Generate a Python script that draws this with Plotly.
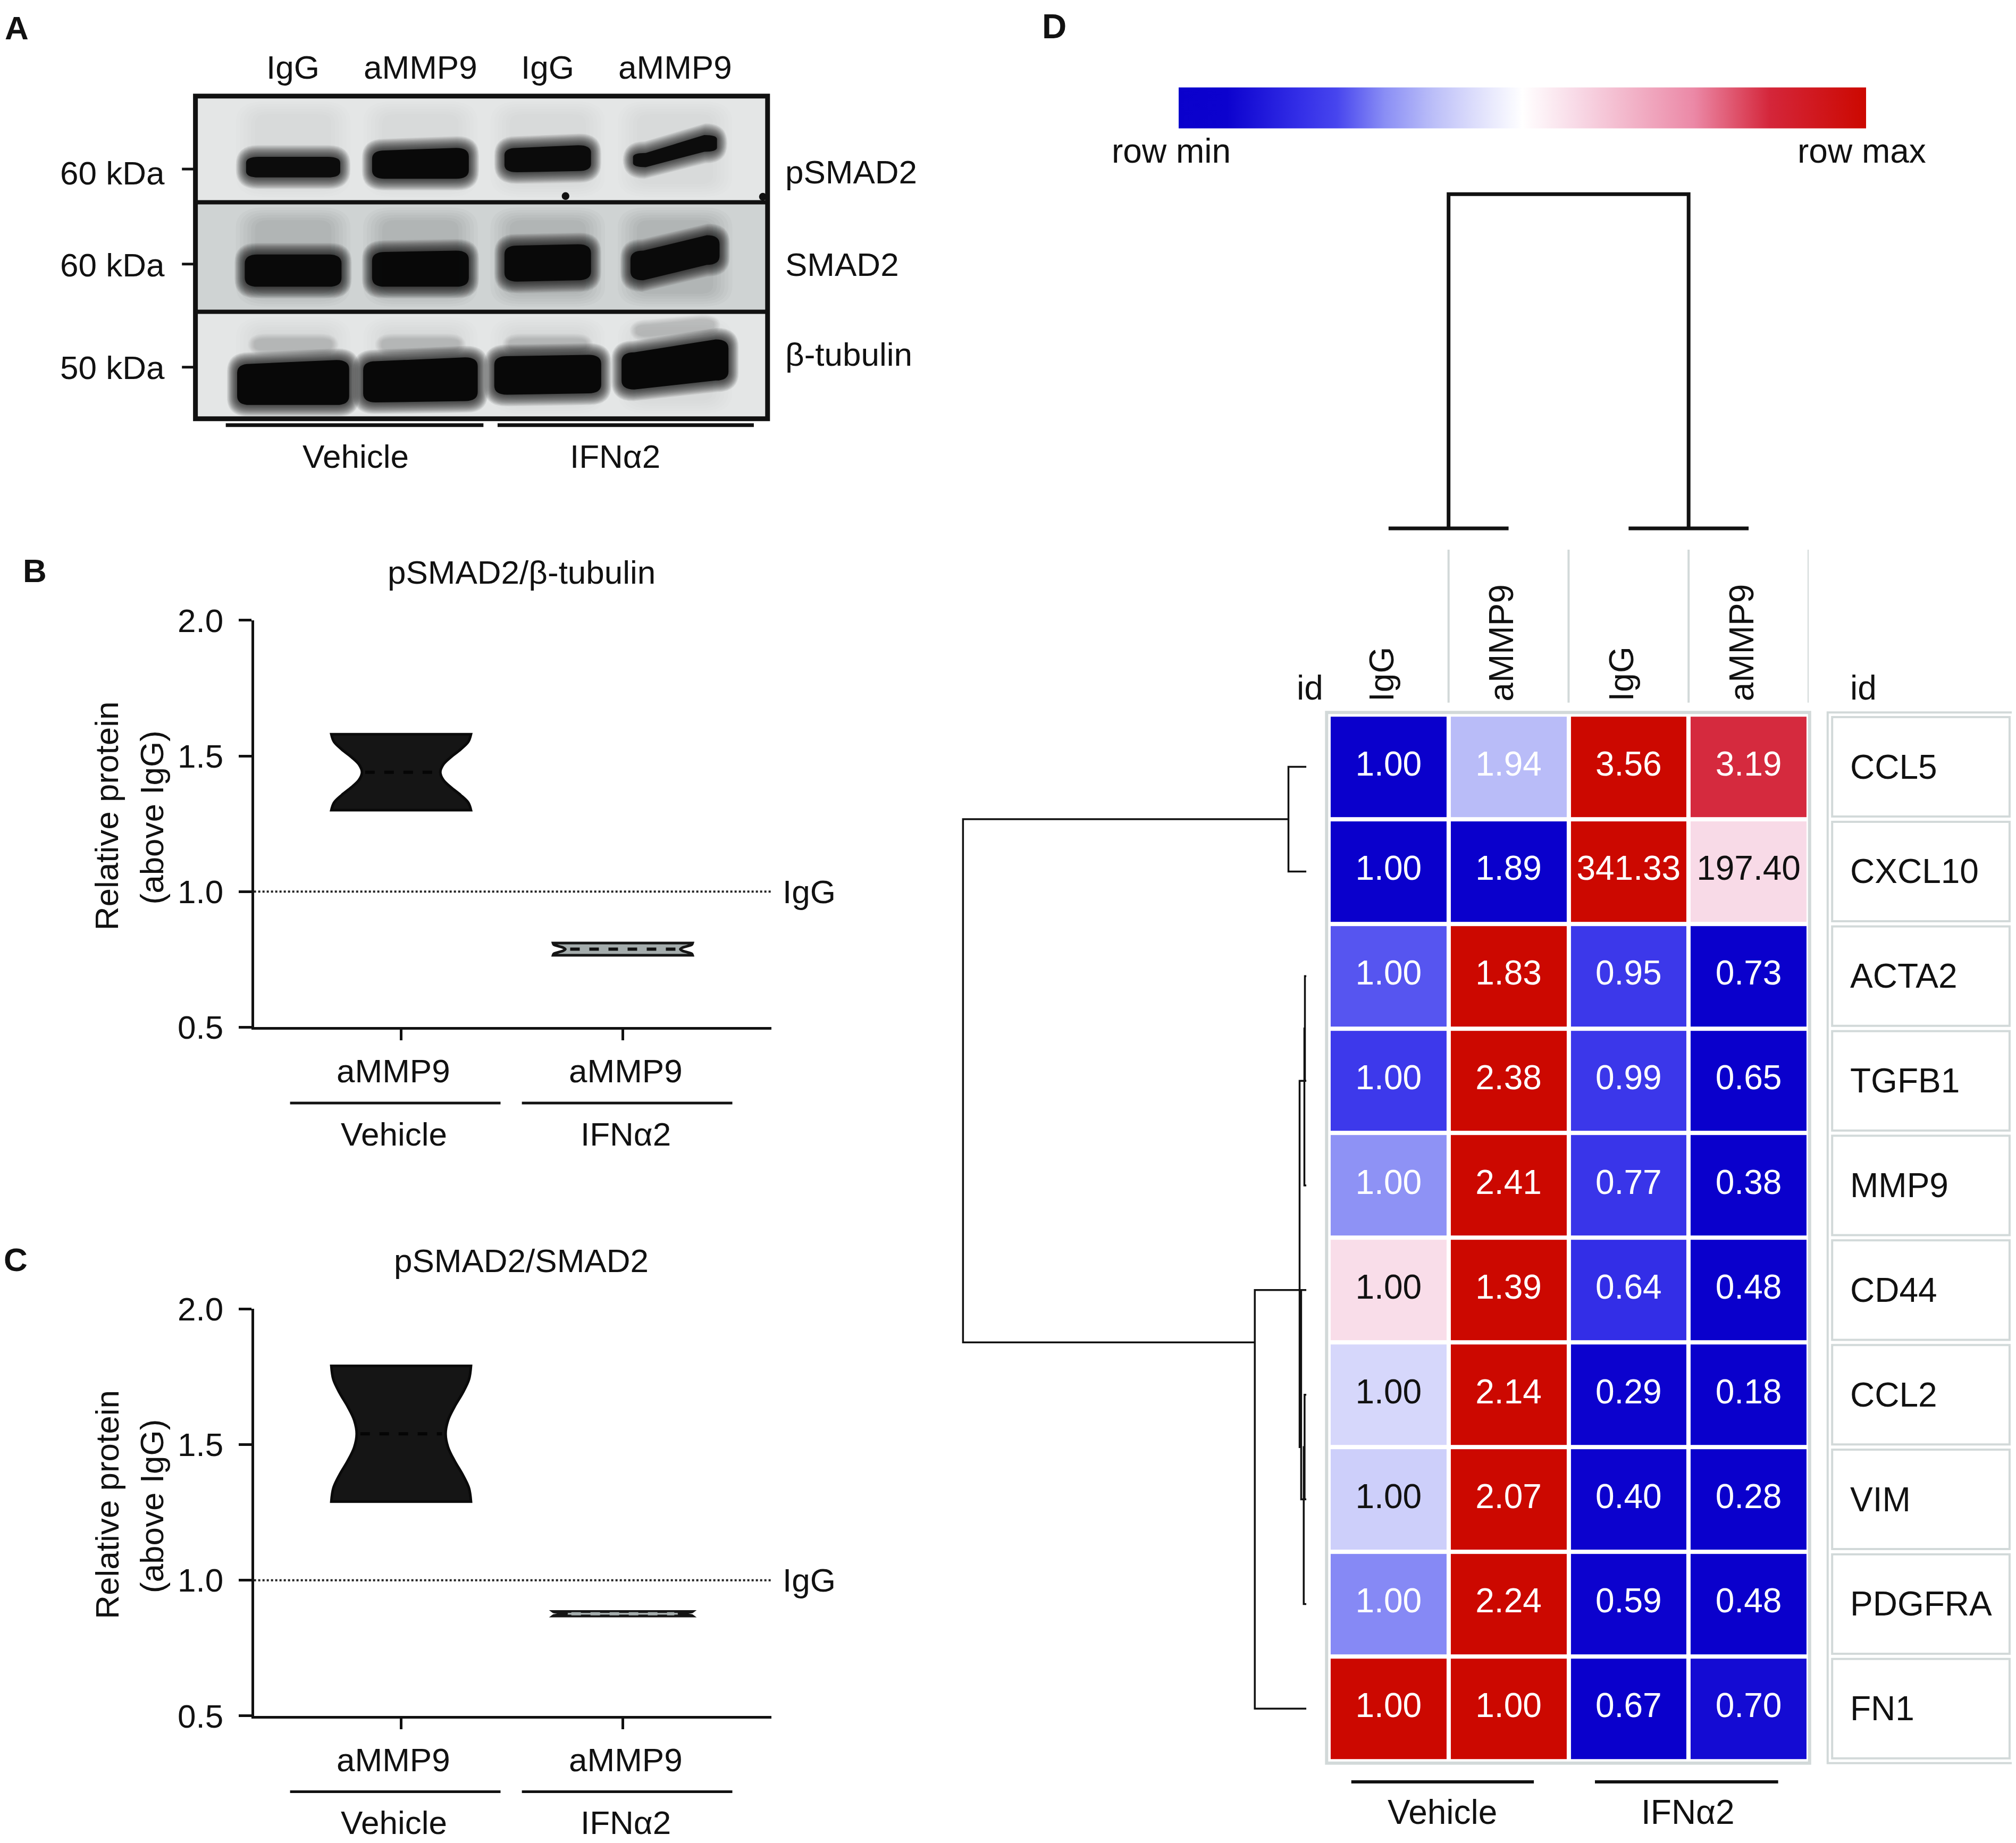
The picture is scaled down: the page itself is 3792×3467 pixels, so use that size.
import numpy as np
import plotly.graph_objects as go

# ---------------------------------------------------------------- data
blot_lanes = ["IgG", "aMMP9", "IgG", "aMMP9"]
blot_groups = ["Vehicle", "IFNα2"]
blot_targets = ["pSMAD2", "SMAD2", "β-tubulin"]
blot_kda = ["60 kDa", "60 kDa", "50 kDa"]
psmad2_density = [0.93, 0.98, 0.96, 0.93]
smad2_density = [0.98, 0.99, 0.98, 0.96]
tubulin_density = [1.0, 1.0, 1.0, 1.0]

violin_labels = ["aMMP9", "aMMP9"]
violin_groups = ["Vehicle", "IFNα2"]
b_title = "pSMAD2/β-tubulin"
c_title = "pSMAD2/SMAD2"
b_vehicle = [1.30, 1.58]
b_ifn = [0.765, 0.81]
c_vehicle = [1.29, 1.79]
c_ifn = [0.868, 0.885]
igg_level = 1.0
y_ticks = [0.5, 1.0, 1.5, 2.0]

genes = ["CCL5", "CXCL10", "ACTA2", "TGFB1", "MMP9", "CD44", "CCL2", "VIM", "PDGFRA", "FN1"]
samples = ["IgG", "aMMP9", "IgG", "aMMP9"]
sample_groups = ["Vehicle", "IFNα2"]
expr = [
    [1.00, 1.94, 3.56, 3.19],
    [1.00, 1.89, 341.33, 197.40],
    [1.00, 1.83, 0.95, 0.73],
    [1.00, 2.38, 0.99, 0.65],
    [1.00, 2.41, 0.77, 0.38],
    [1.00, 1.39, 0.64, 0.48],
    [1.00, 2.14, 0.29, 0.18],
    [1.00, 2.07, 0.40, 0.28],
    [1.00, 2.24, 0.59, 0.48],
    [1.00, 1.00, 0.67, 0.70],
]
# hierarchical clustering: (child a, child b, height)
row_merges = [(2, 3, 0.004), (10, 4, 0.0056), (6, 7, 0.005), (12, 8, 0.0075),
              (5, 13, 0.015), (11, 14, 0.0195), (0, 1, 0.052), (15, 9, 0.150),
              (16, 17, 1.0)]
col_merges = [(0, 1, 0.0), (2, 3, 0.0), (4, 5, 1.0)]

# ---------------------------------------------------------------- layout helpers
FONT = "Liberation Sans, Arial, Helvetica, sans-serif"
W, H = 3792, 3467
DW, DH = 1568.0, 1433.6
OFF = 3.3          # page body margin (8 px) expressed in layout units
INK = "#111111"
GRID = "#d2d9d9"
FS_AC = 62
FS_D = 64


def px(X):
    return (X - OFF) / DW


def py(Y):
    return 1.0 - (Y - OFF) / DH


fig = go.Figure()
shapes = []
annotations = []


def ann(text, X, Y, size=FS_AC, xanchor="center", yanchor="middle", bold=False,
        angle=0, xref="paper", yref="paper", xshift=0, color=INK):
    annotations.append(dict(
        text=f"<b>{text}</b>" if bold else text,
        x=px(X) if xref == "paper" else X,
        y=py(Y) if yref == "paper" else Y,
        xref=xref, yref=yref, xanchor=xanchor, yanchor=yanchor,
        textangle=angle, showarrow=False, xshift=xshift,
        font=dict(family=FONT, size=size, color=color)))


def pline(X0, Y0, X1, Y1, width=6, color=INK, dash=None):
    shapes.append(dict(type="line", xref="paper", yref="paper",
                       x0=px(X0), y0=py(Y0), x1=px(X1), y1=py(Y1),
                       line=dict(color=color, width=width, dash=dash)))


# ---------------------------------------------------------------- panel A (blot)
LANE0, LANEP = 228.0, 99.0
BX0, BX1, BY0, BY1 = 152.0, 597.0, 74.7, 325.7
lane_pos = list(range(len(blot_lanes)))
fig.update_layout(
    xaxis=dict(domain=[px(BX0), px(BX1)], range=[(BX0 - LANE0) / LANEP, (BX1 - LANE0) / LANEP],
               visible=False, fixedrange=True),
    yaxis=dict(domain=[py(BY1), py(BY0)], range=[BY1, BY0], visible=False, fixedrange=True),
)
strip_edges = [74.7, 157.3, 242.5, 325.7]
strip_bg = ["#e4e6e6", "#cfd3d3", "#e4e6e6"]
for k in range(3):
    shapes.append(dict(type="rect", xref="x domain", yref="y", x0=0, x1=1,
                       y0=strip_edges[k], y1=strip_edges[k + 1], fillcolor=strip_bg[k],
                       line=dict(width=0), layer="below"))

band_geom = {  # half-width (lane units), top-left, bottom-left, top-right, bottom-right (px)
    "pSMAD2": [(0.37, 122, 138, 122, 138), (0.38, 117, 139, 115, 139),
               (0.34, 115, 134, 113, 133), (0.33, 119, 130, 105, 118)],
    "SMAD2": [(0.38, 198, 223, 198, 223), (0.38, 196, 223, 195, 223),
              (0.34, 191, 219, 190, 218), (0.35, 195, 218, 183, 206)],
    "β-tubulin": [(0.44, 283, 315, 280, 315), (0.45, 281, 313, 278, 312),
                  (0.42, 277, 307, 276, 306), (0.42, 274, 303, 264, 296)],
}
densities = {"pSMAD2": psmad2_density, "SMAD2": smad2_density, "β-tubulin": tubulin_density}


def band_path(xc, hw, tl, bl, tr, br, ex=0.0, ey=0.0):
    x0, x1 = xc - hw - ex, xc + hw + ex
    tl, tr, bl, br = tl - ey, tr - ey, bl + ey, br + ey
    rx = 0.10 + ex * 0.9
    ry = min(7.0, (bl - tl) * 0.3) + ey * 0.9
    return (f"M {x0 + rx},{tl} L {x1 - rx},{tr} Q {x1},{tr} {x1},{tr + ry} "
            f"L {x1},{br - ry} Q {x1},{br} {x1 - rx},{br} L {x0 + rx},{bl} "
            f"Q {x0},{bl} {x0},{bl - ry} L {x0},{tl + ry} Q {x0},{tl} {x0 + rx},{tl} Z")


NBLUR = 14
blur = [(0.08 * (1 - s / NBLUR), 9.0 * (1 - s / NBLUR)) for s in range(NBLUR)]

# soft lane streaks (very faint, blurred)
for k, op in enumerate([0.008, 0.022, 0.008]):
    for i in lane_pos:
        for s in range(6):
            shapes.append(dict(type="path", xref="x", yref="y",
                               path=band_path(i, 0.30, strip_edges[k] + 14, strip_edges[k + 1] - 14,
                                              strip_edges[k] + 14, strip_edges[k + 1] - 14,
                                              0.03 * s, 2.0 * s),
                               fillcolor="#000000", opacity=op, line=dict(width=0)))

# faint upper bands on the tubulin strip
for i in lane_pos:
    lift = 11 if i == 3 else 0
    tilt = 4 if i == 3 else 0
    for ex, ey in blur[::2]:
        shapes.append(dict(type="path", xref="x", yref="y",
                           path=band_path(i, 0.30, 264 - lift, 272 - lift, 264 - lift - tilt,
                                          272 - lift - tilt, ex * 0.7, ey * 0.5),
                           fillcolor="#000000", opacity=0.025, line=dict(width=0)))

for tgt in blot_targets:
    for i in lane_pos:
        hw, tl, bl, tr, br = band_geom[tgt][i]
        d = densities[tgt][i]
        for ex, ey in blur:
            shapes.append(dict(type="path", xref="x", yref="y",
                               path=band_path(i, hw, tl, bl, tr, br, ex, ey),
                               fillcolor="#080808", opacity=0.08 * d, line=dict(width=0)))
        shapes.append(dict(type="path", xref="x", yref="y",
                           path=band_path(i, hw, tl, bl, tr, br, 0, 0),
                           fillcolor="#080808", opacity=min(1.0, d), line=dict(width=0)))
# specks
for (sx, sy) in [(2.14, 152.5), (3.69, 153)]:
    shapes.append(dict(type="circle", xref="x", yref="y", x0=sx - 0.03, x1=sx + 0.03,
                       y0=sy - 3, y1=sy + 3, fillcolor="#111111", line=dict(width=0)))
# frame and strip separators
shapes.append(dict(type="rect", xref="x domain", yref="y domain", x0=0, x1=1, y0=0, y1=1,
                   line=dict(color=INK, width=9)))
for e in strip_edges[1:3]:
    shapes.append(dict(type="line", xref="x domain", yref="y", x0=0, x1=1, y0=e, y1=e,
                       line=dict(color=INK, width=8)))

ann("A", 13, 21.5, size=62, bold=True)
for i, lab in enumerate(blot_lanes):
    ann(lab, LANE0 + LANEP * i, 52.2)
kda_y = [134.5, 206.0, 286.0]
kda_tick_y = [131.5, 205.4, 285.6]
for t, yy, ty in zip(blot_kda, kda_y, kda_tick_y):
    ann(t, 129, yy, xanchor="right")
    pline(141.5, ty, 152, ty, width=5)
tgt_y = [133.8, 205.7, 275.5]
for t, yy in zip(blot_targets, tgt_y):
    ann(t, 610, yy, xanchor="left")
pline(175.6, 330.7, 376.0, 330.7, width=7)
pline(387.0, 330.7, 586.3, 330.7, width=7)
ann(blot_groups[0], 276.6, 355)
ann(blot_groups[1], 478.4, 355)

# ---------------------------------------------------------------- panels B and C (violins)
AX_X0, AX_X1 = 197.5, 600.0
TICK0, TICK1 = 312.0, 484.4
unit = TICK1 - TICK0
xr = [(AX_X0 - TICK0) / unit, (AX_X1 - TICK0) / unit]
VW = 0.63


def kde(vals, h, y):
    v = np.asarray(vals, dtype=float)
    y = np.atleast_1d(np.asarray(y, dtype=float))
    return np.exp(-0.5 * ((y[:, None] - v[None, :]) / h) ** 2).sum(axis=1)


def violin_panel(xa, ya, top, title, letter, letter_x, series, bws, fills, lines, dash_cols):
    bottom = top + 316.5
    xname = "xaxis" + xa[1:]
    yname = "yaxis" + ya[1:]
    fig.update_layout(**{
        xname: dict(domain=[px(AX_X0), px(AX_X1)], range=xr, tickvals=[0, 1], ticks="outside",
                    ticklen=20, tickwidth=5, tickcolor=INK, showticklabels=False, showline=True,
                    linewidth=5, linecolor=INK, showgrid=False, zeroline=False, anchor=ya,
                    fixedrange=True),
        yname: dict(domain=[py(bottom), py(top)], range=[0.5, 2.0], tickvals=y_ticks,
                    ticktext=[f"{v:.1f}" for v in y_ticks], ticks="outside", ticklen=24,
                    tickwidth=5, tickcolor=INK, showline=True, linewidth=5, linecolor=INK,
                    showgrid=False, zeroline=False, anchor=xa, ticklabelstandoff=16,
                    tickfont=dict(family=FONT, size=FS_AC, color=INK), fixedrange=True),
    })
    for pos, (vals, h, fc, lc, dc) in enumerate(zip(series, bws, fills, lines, dash_cols)):
        fig.add_trace(go.Violin(x=[pos] * len(vals), y=vals, xaxis=xa, yaxis=ya, width=VW,
                                scalemode="width", spanmode="hard", bandwidth=h, points=False,
                                fillcolor=fc, line=dict(color=lc, width=5), side="both",
                                showlegend=False, hoverinfo="skip"))
        med = float(np.median(vals))
        grid = np.linspace(min(vals), max(vals), 400)
        hw = VW / 2 * kde(vals, h, med)[0] / kde(vals, h, grid).max()
        fig.add_trace(go.Scatter(x=[pos - hw * 0.92, pos + hw * 0.92], y=[med, med], mode="lines",
                                 xaxis=xa, yaxis=ya, line=dict(color=dc, width=6, dash="dash"),
                                 showlegend=False, hoverinfo="skip"))
    shapes.append(dict(type="line", xref=f"{xa} domain", yref=ya, x0=0, x1=1,
                       y0=igg_level, y1=igg_level, line=dict(color="#222222", width=4, dash="dot")))
    yl = top + (1 - (igg_level - 0.5) / 1.5) * 316.5
    ann("IgG", 608, yl, xanchor="left")
    ann(letter, letter_x, top - 38.5, size=62, bold=True)
    ann(title, 405.5, top - 37.5)
    ann(violin_labels[0], 306, bottom + 34)
    ann(violin_labels[1], 486.6, bottom + 34)
    pline(225.6, bottom + 59, 389.3, bottom + 59, width=5)
    pline(405.9, bottom + 59, 569.6, bottom + 59, width=5)
    ann(violin_groups[0], 306.5, bottom + 83)
    ann(violin_groups[1], 486.7, bottom + 83)
    mid = top + 152
    ann("Relative protein", 83, mid, angle=-90)
    ann("(above IgG)", 118, mid + 1.5, angle=-90)


VEH_FILL, VEH_LINE = "#151515", "#0a0a0a"
IFN_FILL, IFN_LINE = "#a4acac", "#151515"
violin_panel("x2", "y2", 482.5, b_title, "B", 27, [b_vehicle, b_ifn], [0.088, 0.0172],
             [VEH_FILL, IFN_FILL], [VEH_LINE, IFN_LINE], ["#050505", "#111111"])
violin_panel("x3", "y3", 1018.2, c_title, "C", 12, [c_vehicle, c_ifn], [0.166, 0.0064],
             [VEH_FILL, IFN_FILL], [VEH_LINE, IFN_LINE], ["#050505", IFN_FILL])

# ---------------------------------------------------------------- panel D (heatmap)
HX0, HX1, HY0, HY1 = 1033.3, 1406.7, 555.8, 1369.8
nrow, ncol = len(genes), len(samples)
vals = np.array(expr, dtype=float)
rmin = vals.min(axis=1, keepdims=True)
rmax = vals.max(axis=1, keepdims=True)
znorm = (vals - rmin) / (rmax - rmin)

colorscale = [[0.0, "#0a00cc"], [0.07, "#0c02ce"], [0.18, "#3530e8"], [0.23, "#4745ee"],
              [0.30, "#8a8ef5"], [0.37, "#bbbef8"], [0.42, "#d7d8fb"], [0.5, "#ffffff"],
              [0.58, "#f8d9e6"], [0.75, "#eb88a6"], [0.86, "#d4263a"], [1.0, "#cc0800"]]

fig.update_layout(
    xaxis4=dict(domain=[px(HX0), px(HX1)], range=[-0.5, ncol - 0.5], visible=False,
                anchor="y4", fixedrange=True),
    yaxis4=dict(domain=[py(HY1), py(HY0)], range=[nrow - 0.5, -0.5], visible=False,
                anchor="x4", fixedrange=True),
)
fig.add_trace(go.Heatmap(
    z=znorm, x=list(range(ncol)), y=list(range(nrow)), xaxis="x4", yaxis="y4",
    colorscale=colorscale, zmin=0, zmax=1, xgap=8, ygap=8, hoverinfo="skip",
    colorbar=dict(orientation="h", x=px((917 + 1451.5) / 2), xanchor="center",
                  y=py(84), yanchor="middle", len=(1451.5 - 917) / DW, lenmode="fraction",
                  thickness=77, thicknessmode="pixels", outlinewidth=0, ticks="",
                  showticklabels=False, xpad=0, ypad=0)))

cx, cy, ct, cc = [], [], [], []
for i in range(nrow):
    for j in range(ncol):
        cx.append(j)
        cy.append(i)
        ct.append(f"{vals[i, j]:.2f}")
        t = znorm[i, j]
        cc.append("#111111" if 0.39 < t < 0.62 else "#ffffff")
fig.add_trace(go.Scatter(x=cx, y=cy, text=ct, mode="text", xaxis="x4", yaxis="y4",
                         textposition="middle center",
                         textfont=dict(family=FONT, size=FS_D, color=cc),
                         showlegend=False, hoverinfo="skip"))

# heatmap frame and header grid
shapes.append(dict(type="rect", xref="x4 domain", yref="y4 domain", x0=-0.004, x1=1.002,
                   y0=-0.002, y1=1.002, line=dict(color=GRID, width=6)))
for j in range(ncol):
    shapes.append(dict(type="line", xref="x4", yref="paper", x0=j + 0.5, x1=j + 0.5,
                       y0=py(546.5), y1=py(427.6), line=dict(color=GRID, width=4)))
for j, s in enumerate(samples):
    ann(s, j, 546.5, size=FS_D, angle=-90, xref="x4", yanchor="bottom", xshift=-13)
ann("id", 1019, 535, size=FS_D)
ann("id", 1438, 535, size=FS_D, xanchor="left")

# right id table
shapes.append(dict(type="rect", xref="paper", yref="y4 domain", x0=px(1421.5), x1=px(1566.5),
                   y0=-0.002, y1=1.002, line=dict(color=GRID, width=4)))
for i, g in enumerate(genes):
    shapes.append(dict(type="rect", xref="paper", yref="y4", x0=px(1425), x1=px(1563),
                       y0=i - 0.475, y1=i + 0.475, line=dict(color=GRID, width=4)))
    ann(g, 1438, i, size=FS_D, xanchor="left", yref="y4")

# colour key labels
ann("row min", 911, 117.5, size=FS_D)
ann("row max", 1448, 117.5, size=FS_D)
ann("D", 820, 20.5, size=64, bold=True)

# group labels under heatmap
pline(1051, 1386, 1193, 1386, width=6)
pline(1240.5, 1386, 1383, 1386, width=6)
ann(sample_groups[0], 1122, 1409.7, size=FS_D)
ann(sample_groups[1], 1313, 1409.7, size=FS_D)


# ---------------------------------------------------------------- dendrograms
def dendro_lines(n_leaves, merges):
    pos = {i: float(i) for i in range(n_leaves)}
    hgt = {i: 0.0 for i in range(n_leaves)}
    leaves = {i: [i] for i in range(n_leaves)}
    hs, ps = [], []
    nid = n_leaves
    for a, b, h in merges:
        hs += [hgt[a], h, h, hgt[b], None]
        ps += [pos[a], pos[a], pos[b], pos[b], None]
        leaves[nid] = leaves[a] + leaves[b]
        pos[nid] = float(np.mean(leaves[nid]))
        hgt[nid] = h
        nid += 1
    return hs, ps


LEAF_X, ROOT_X = 1016.0, 749.0
hu = LEAF_X - ROOT_X
fig.update_layout(
    xaxis5=dict(domain=[px(740), px(1020)], range=[(LEAF_X - 740) / hu, (LEAF_X - 1020) / hu],
                visible=False, anchor="y5", fixedrange=True),
    yaxis5=dict(domain=[py(HY1), py(HY0)], range=[nrow - 0.5, -0.5], visible=False,
                anchor="x5", fixedrange=True),
)
rh, rp = dendro_lines(nrow, row_merges)
fig.add_trace(go.Scatter(x=rh, y=rp, mode="lines", xaxis="x5", yaxis="y5",
                         line=dict(color=INK, width=3.5), showlegend=False, hoverinfo="skip"))

LEAF_Y, ROOT_Y = 411.0, 151.0
vu = LEAF_Y - ROOT_Y
fig.update_layout(
    xaxis6=dict(domain=[px(HX0), px(HX1)], range=[-0.5, ncol - 0.5], visible=False,
                anchor="y6", fixedrange=True),
    yaxis6=dict(domain=[py(415), py(147)], range=[(LEAF_Y - 415) / vu, (LEAF_Y - 147) / vu],
                visible=False, anchor="x6", fixedrange=True),
)
ch, cp = dendro_lines(ncol, col_merges)
fig.add_trace(go.Scatter(x=cp, y=ch, mode="lines", xaxis="x6", yaxis="y6",
                         line=dict(color=INK, width=7), showlegend=False, hoverinfo="skip"))

# ---------------------------------------------------------------- finish
fig.update_layout(
    width=W, height=H, margin=dict(l=0, r=0, t=0, b=0, pad=0, autoexpand=False),
    paper_bgcolor="white", plot_bgcolor="rgba(0,0,0,0)",
    showlegend=False, violinmode="overlay",
    font=dict(family=FONT, size=FS_AC, color=INK),
    shapes=shapes, annotations=annotations,
)
fig.write_html("out.html")
